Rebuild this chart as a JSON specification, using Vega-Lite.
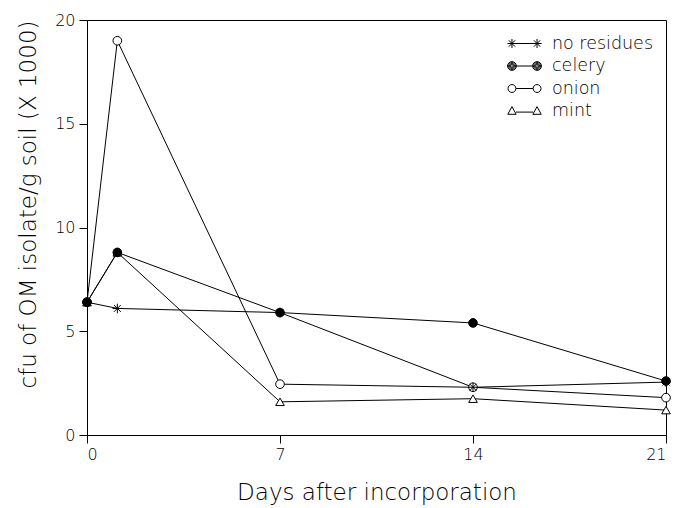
{
  "$schema": "https://vega.github.io/schema/vega-lite/v6.json",
  "autosize": "none",
  "width": 579,
  "height": 415,
  "padding": {"left": 87, "top": 20, "right": 10, "bottom": 73},
  "background": "white",
  "config": {
    "font": "DejaVu Sans",
    "view": {"stroke": "black", "strokeWidth": 1},
    "axis": {
      "grid": false,
      "domainColor": "black",
      "tickColor": "black",
      "tickSize": 8,
      "labelFont": "DejaVu Sans",
      "labelFontWeight": 200,
      "labelFontSize": 16,
      "labelColor": "black",
      "titleFont": "DejaVu Sans",
      "titleFontWeight": 200,
      "titleColor": "black"
    },
    "legend": {
      "labelFont": "DejaVu Sans",
      "labelFontWeight": 200,
      "labelFontSize": 17.5,
      "labelColor": "black"
    }
  },
  "data": {
    "values": [
      {"series": "mint", "day": 0, "value": 6.4},
      {"series": "mint", "day": 1.1, "value": 8.8},
      {"series": "mint", "day": 7, "value": 1.6},
      {"series": "mint", "day": 14, "value": 1.75},
      {"series": "mint", "day": 21, "value": 1.2},
      {"series": "onion", "day": 0, "value": 6.4},
      {"series": "onion", "day": 1.1, "value": 19.0},
      {"series": "onion", "day": 7, "value": 2.45},
      {"series": "onion", "day": 14, "value": 2.3},
      {"series": "onion", "day": 21, "value": 1.8},
      {"series": "no residues", "day": 0, "value": 6.4},
      {"series": "no residues", "day": 1.1, "value": 6.1},
      {"series": "no residues", "day": 7, "value": 5.9},
      {"series": "no residues", "day": 14, "value": 2.3},
      {"series": "no residues", "day": 21, "value": 2.55},
      {"series": "celery", "day": 0, "value": 6.4},
      {"series": "celery", "day": 1.1, "value": 8.8},
      {"series": "celery", "day": 7, "value": 5.9},
      {"series": "celery", "day": 14, "value": 5.4},
      {"series": "celery", "day": 21, "value": 2.6}
    ]
  },
  "encoding": {
    "x": {
      "field": "day", "type": "quantitative",
      "scale": {"domain": [0, 21], "nice": false, "zero": false},
      "axis": {"values": [0, 7, 14, 21], "title": "Days after incorporation", "titleFontSize": 23, "titlePadding": 19, "labelPadding": 3}
    },
    "y": {
      "field": "value", "type": "quantitative",
      "scale": {"domain": [0, 20], "nice": false},
      "axis": {"values": [0, 5, 10, 15, 20], "title": "cfu of OM isolate/g soil (X 1000)", "titleFontSize": 23, "titleAnchor": "end", "titlePadding": 14, "labelPadding": 4}
    }
  },
  "layer": [
    {
      "mark": {"type": "line", "color": "black", "strokeWidth": 1},
      "encoding": {"detail": {"field": "series"}}
    },
    {
      "mark": {"type": "point", "filled": true, "stroke": "black", "strokeWidth": 1, "opacity": 1, "size": 75},
      "encoding": {
        "shape": {
          "field": "series", "type": "nominal",
          "scale": {"domain": ["no residues", "celery", "onion", "mint"], "range": ["M-1.1,0L1.1,0M0,-1.1L0,1.1M-0.8,-0.8L0.8,0.8M-0.8,0.8L0.8,-0.8", "circle", "circle", "triangle-up"]},
          "legend": null
        },
        "fill": {
          "field": "series", "type": "nominal",
          "scale": {"domain": ["no residues", "celery", "onion", "mint"], "range": ["black", "black", "white", "white"]},
          "legend": null
        }
      }
    },
    {
      "mark": {"type": "point", "filled": false, "stroke": "black", "color": "black", "opacity": 0},
      "encoding": {
        "shape": {
          "field": "series", "type": "nominal",
          "scale": {"domain": ["no residues", "celery", "onion", "mint"], "range": [
            "M-0.83,0L0.83,0M-1.55,0L-0.73,0M-1.14,-0.41L-1.14,0.41M-1.43,-0.29L-0.85,0.29M-1.43,0.29L-0.85,-0.29M0.73,0L1.55,0M1.14,-0.41L1.14,0.41M0.85,-0.29L1.43,0.29M0.85,0.29L1.43,-0.29",
            "M-0.83,0L0.83,0M-0.74,0A0.4,0.4 0 1,1 -1.54,0A0.4,0.4 0 1,1 -0.74,0M-0.83,0A0.31,0.31 0 1,1 -1.45,0A0.31,0.31 0 1,1 -0.83,0M-0.92,0A0.22,0.22 0 1,1 -1.36,0A0.22,0.22 0 1,1 -0.92,0M-1.01,0A0.13,0.13 0 1,1 -1.27,0A0.13,0.13 0 1,1 -1.01,0M1.54,0A0.4,0.4 0 1,1 0.74,0A0.4,0.4 0 1,1 1.54,0M1.45,0A0.31,0.31 0 1,1 0.83,0A0.31,0.31 0 1,1 1.45,0M1.36,0A0.22,0.22 0 1,1 0.92,0A0.22,0.22 0 1,1 1.36,0M1.27,0A0.13,0.13 0 1,1 1.01,0A0.13,0.13 0 1,1 1.27,0",
            "M-0.78,0L0.78,0M-0.78,0A0.36,0.36 0 1,1 -1.5,0A0.36,0.36 0 1,1 -0.78,0M1.5,0A0.36,0.36 0 1,1 0.78,0A0.36,0.36 0 1,1 1.5,0",
            "M-0.78,0.1L0.78,0.1M-1.14,-0.4L-0.76,0.3L-1.52,0.3Z M1.14,-0.4L1.52,0.3L0.76,0.3Z"
          ]},
          "legend": {
            "title": null,
            "orient": "top-right",
            "offset": 12,
            "padding": 0,
            "symbolSize": 484,
            "symbolOpacity": 1,
            "symbolStrokeColor": "black",
            "symbolFillColor": "transparent",
            "symbolStrokeWidth": 1,
            "labelOffset": 16,
            "rowPadding": 2.5
          }
        }
      }
    }
  ],
  "resolve": {"scale": {"shape": "independent", "fill": "independent"}}
}
